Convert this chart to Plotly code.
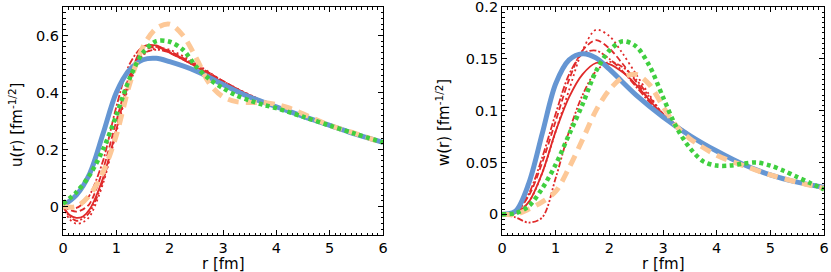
import plotly.graph_objects as go
from plotly.subplots import make_subplots

# ---------------- data: u(r) (left panel) ----------------
r_blue_u = [0, 0.25, 0.5, 0.75, 1.0, 1.25, 1.5, 1.75, 2.0, 2.5, 3.0, 3.5, 4.0, 4.5, 5.0, 5.5, 6.0]
u_blue = [0.003, 0.04, 0.115, 0.255, 0.4, 0.48, 0.515, 0.52, 0.508, 0.475, 0.428, 0.384, 0.35, 0.316, 0.285, 0.253, 0.225]

r_green_u = [0, 0.25, 0.5, 0.75, 1.0, 1.25, 1.5, 1.75, 2.0, 2.25, 2.5, 2.75, 3.0, 3.25, 3.5, 3.75, 4.0, 4.5, 5.0, 5.5, 6.0]
u_green = [0.01, 0.05, 0.11, 0.2, 0.32, 0.45, 0.54, 0.58, 0.578, 0.55, 0.49, 0.446, 0.415, 0.39, 0.372, 0.357, 0.345, 0.315, 0.284, 0.254, 0.225]

r_orange_u = [0, 0.25, 0.5, 0.75, 1.0, 1.25, 1.5, 1.75, 2.0, 2.25, 2.5, 2.75, 3.0, 3.25, 3.5, 3.75, 4.0, 4.25, 4.5, 5.0, 5.5, 6.0]
u_orange = [0.0, 0.0, 0.04, 0.12, 0.25, 0.43, 0.56, 0.625, 0.64, 0.6, 0.52, 0.43, 0.385, 0.368, 0.365, 0.365, 0.358, 0.345, 0.325, 0.285, 0.255, 0.223]

r_red_u = [0, 0.125, 0.25, 0.375, 0.5, 0.75, 1.0, 1.25, 1.5, 1.75, 2.0, 2.5, 3.0, 3.5, 4.0, 5.0, 6.0]
u_red_solid = [0.0, -0.03, -0.04, -0.035, -0.01, 0.1, 0.27, 0.45, 0.56, 0.565, 0.54, 0.49, 0.435, 0.39, 0.35, 0.285, 0.225]
u_red_dash = [0.0, -0.012, -0.018, -0.01, 0.01, 0.13, 0.3, 0.46, 0.545, 0.56, 0.545, 0.495, 0.44, 0.39, 0.35, 0.285, 0.225]
u_red_dashdot = [0.0, -0.003, -0.005, 0.01, 0.04, 0.16, 0.35, 0.5, 0.56, 0.56, 0.54, 0.49, 0.435, 0.39, 0.35, 0.285, 0.225]
u_red_dot = [0.0, -0.045, -0.06, -0.055, -0.035, 0.08, 0.26, 0.43, 0.53, 0.555, 0.55, 0.5, 0.44, 0.392, 0.35, 0.285, 0.225]
u_red_dashdotdot = [0.0, -0.035, -0.05, -0.042, -0.02, 0.09, 0.27, 0.44, 0.535, 0.55, 0.54, 0.495, 0.44, 0.39, 0.35, 0.285, 0.225]

# ---------------- data: w(r) (right panel) ----------------
r_blue_w = [0, 0.25, 0.5, 0.75, 1.0, 1.25, 1.5, 1.75, 2.0, 2.5, 3.0, 3.5, 4.0, 4.5, 5.0, 5.5, 6.0]
w_blue = [0.0, 0.003, 0.03, 0.078, 0.126, 0.149, 0.155, 0.151, 0.14, 0.115, 0.094, 0.076, 0.061, 0.048, 0.038, 0.031, 0.026]

r_green_w = [0, 0.25, 0.5, 0.75, 1.0, 1.25, 1.5, 1.75, 2.0, 2.25, 2.5, 2.75, 3.0, 3.25, 3.5, 3.75, 4.0, 4.25, 4.5, 4.75, 5.0, 5.25, 5.5, 5.75, 6.0]
w_green = [0.0, 0.001, 0.008, 0.025, 0.048, 0.077, 0.106, 0.138, 0.158, 0.167, 0.162, 0.143, 0.113, 0.084, 0.064, 0.051, 0.047, 0.047, 0.049, 0.05, 0.047, 0.042, 0.036, 0.03, 0.024]

r_orange_w = [0, 0.25, 0.5, 0.75, 1.0, 1.25, 1.5, 1.75, 2.0, 2.25, 2.5, 2.75, 3.0, 3.25, 3.5, 4.0, 4.5, 5.0, 5.5, 6.0]
w_orange = [0.0, 0.0, 0.005, 0.012, 0.022, 0.045, 0.072, 0.1, 0.12, 0.132, 0.135, 0.125, 0.104, 0.085, 0.073, 0.057, 0.047, 0.038, 0.031, 0.025]

r_red_w = [0, 0.25, 0.5, 0.75, 1.0, 1.25, 1.5, 1.75, 2.0, 2.25, 2.5, 2.75, 3.0, 3.5, 4.0, 5.0, 6.0]
w_red_solid = [0.0, 0.001, 0.012, 0.04, 0.08, 0.113, 0.135, 0.146, 0.145, 0.137, 0.125, 0.11, 0.096, 0.076, 0.061, 0.038, 0.026]
w_red_dash = [0.0, 0.002, 0.018, 0.05, 0.09, 0.13, 0.158, 0.168, 0.16, 0.145, 0.128, 0.11, 0.095, 0.076, 0.061, 0.038, 0.026]
w_red_dashdot = [0.0, 0.002, 0.02, 0.055, 0.097, 0.135, 0.155, 0.158, 0.15, 0.138, 0.123, 0.108, 0.094, 0.076, 0.061, 0.038, 0.026]
w_red_dot = [0.0, 0.001, 0.012, 0.04, 0.08, 0.12, 0.158, 0.178, 0.172, 0.155, 0.135, 0.115, 0.097, 0.077, 0.061, 0.038, 0.026]
w_red_dashdotdot = [0.0, -0.003, -0.008, -0.003, 0.035, 0.08, 0.115, 0.138, 0.147, 0.142, 0.13, 0.113, 0.097, 0.077, 0.061, 0.038, 0.026]

BLUE = "#6596d3"
GREEN = "#3fcf3f"
ORANGE = "#fdc897"
RED = "#e02a2a"
FONT = "DejaVu Sans"

fig = make_subplots(rows=1, cols=2)


def add(col, x, y, color, width, dash):
    fig.add_trace(go.Scatter(x=x, y=y, mode="lines",
                             line=dict(color=color, width=width, dash=dash, shape="spline", smoothing=0.9),
                             showlegend=False, hoverinfo="skip"), row=1, col=col)


RED_STYLES = ["solid", "6px,3px", "7px,2px,2px,2px", "2px,3px", "6px,2px,2px,2px,2px,2px"]

for y, d in zip([u_red_solid, u_red_dash, u_red_dashdot, u_red_dot, u_red_dashdotdot], RED_STYLES):
    add(1, r_red_u, y, RED, 1.8, d)
add(1, r_blue_u, u_blue, BLUE, 5, "solid")
add(1, r_orange_u, u_orange, ORANGE, 5, "11px,7px")
add(1, r_green_u, u_green, GREEN, 4.5, "4px,3.5px")

for y, d in zip([w_red_solid, w_red_dash, w_red_dashdot, w_red_dot, w_red_dashdotdot], RED_STYLES):
    add(2, r_red_w, y, RED, 1.8, d)
add(2, r_blue_w, w_blue, BLUE, 5, "solid")
add(2, r_orange_w, w_orange, ORANGE, 5, "11px,7px")
add(2, r_green_w, w_green, GREEN, 4.5, "4px,3.5px")

axis_common = dict(showline=True, linecolor="black", linewidth=1, mirror="allticks",
                   ticks="inside", ticklen=5, tickcolor="black", tickwidth=1,
                   showgrid=False, zeroline=False, automargin=False, ticklabeloverflow="allow",
                   tickfont=dict(family=FONT, size=14.5, color="black"))

fig.update_xaxes(**axis_common, range=[0, 6.0001], tickvals=[0, 1, 2, 3, 4, 5, 6],
                 minor=dict(ticks="inside", ticklen=2.5, dtick=0.1, tick0=0, tickcolor="black", tickwidth=1, showgrid=False))

fig.update_yaxes(**axis_common, row=1, col=1, range=[-0.1, 0.7],
                 tickvals=[0, 0.2, 0.4, 0.6], ticktext=["0", "0.2", "0.4", "0.6"],
                 minor=dict(ticks="inside", ticklen=2.5, dtick=0.02, tick0=0, tickcolor="black", tickwidth=1, showgrid=False))
fig.update_yaxes(**axis_common, row=1, col=2, range=[-0.02, 0.20005],
                 tickvals=[0, 0.05, 0.1, 0.15, 0.2], ticktext=["0", "0.05", "0.1", "0.15", "0.2"],
                 minor=dict(ticks="inside", ticklen=2.5, dtick=0.005, tick0=0, tickcolor="black", tickwidth=1, showgrid=False))

fig.update_xaxes(domain=[0, 0.4205], row=1, col=1)
fig.update_xaxes(domain=[0.5769, 1.0], row=1, col=2)

W, H = 831, 272
L, R, T, B = 63, 7, 7, 37
pw, ph = W - L - R, H - T - B


def px(x):
    return (x - L) / pw


def py(y):
    return (H - B - y) / ph


title_font = dict(family=FONT, size=15, color="black")
annotations = [
    dict(text="r [fm]", x=px(223), y=py(264), xref="paper", yref="paper", showarrow=False,
         xanchor="center", yanchor="middle", font=title_font),
    dict(text="r [fm]", x=px(663), y=py(264), xref="paper", yref="paper", showarrow=False,
         xanchor="center", yanchor="middle", font=title_font),
    dict(text="u(r) [fm<sup>-1/2</sup>]", x=px(16), y=py(125), xref="paper", yref="paper", showarrow=False,
         xanchor="center", yanchor="middle", textangle=-90, font=title_font),
    dict(text="w(r) [fm<sup>-1/2</sup>]", x=px(443), y=py(123), xref="paper", yref="paper", showarrow=False,
         xanchor="center", yanchor="middle", textangle=-90, font=title_font),
]

fig.update_layout(width=W, height=H, margin=dict(l=L, r=R, t=T, b=B),
                  paper_bgcolor="white", plot_bgcolor="white",
                  font=dict(family=FONT, color="black"), annotations=annotations)

fig.write_html("out.html", config={"displayModeBar": False},
               post_script="document.body.style.margin='0';document.body.style.padding='0';")
